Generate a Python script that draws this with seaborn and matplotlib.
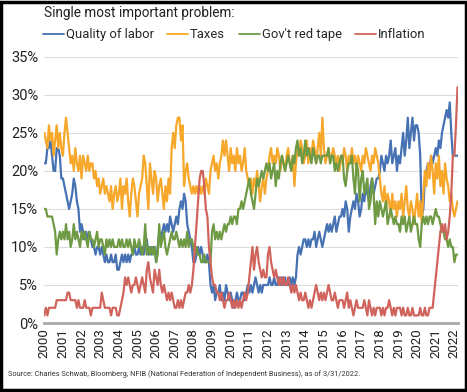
import matplotlib.pyplot as plt
import seaborn as sns
import numpy as np
import pandas as pd
from matplotlib.lines import Line2D

# 数据准备 (monthly, Jan 2000 - Mar 2022, %)
labor = [
    21, 21, 23, 23, 24, 22, 20, 20, 23, 23, 22, 19,  # 2000
    19, 18, 17, 16, 15, 16, 17, 19, 18, 16, 15, 12,  # 2001
    13, 12, 11, 12, 11, 12, 11, 10, 10, 9, 10, 10,   # 2002
    9, 10, 9, 8, 9, 8, 8, 9, 8, 8, 9, 7,             # 2003
    7, 8, 9, 8, 9, 8, 9, 8, 9, 9, 10, 9,             # 2004
    9, 10, 9, 10, 9, 10, 11, 9, 10, 9, 10, 10,       # 2005
    8, 10, 12, 11, 12, 13, 12, 13, 12, 14, 13, 12,   # 2006
    13, 14, 13, 15, 16, 15, 17, 16, 13, 12, 11, 10,  # 2007
    8, 8, 9, 10, 9, 10, 9, 8, 8, 9, 8, 5,            # 2008
    4, 5, 3, 4, 4, 5, 3, 4, 3, 5, 4, 3,              # 2009
    4, 3, 2, 3, 4, 3, 3, 4, 4, 3, 4, 5,              # 2010
    4, 5, 4, 5, 6, 5, 4, 5, 4, 5, 5, 5,              # 2011
    5, 6, 5, 5, 6, 5, 5, 6, 5, 6, 5, 6,              # 2012
    5, 5, 6, 5, 6, 5, 6, 9, 10, 9, 10, 11,           # 2013
    11, 10, 11, 10, 11, 11, 12, 10, 11, 12, 11, 10,  # 2014
    11, 12, 13, 12, 13, 12, 13, 14, 12, 13, 14, 14,  # 2015
    15, 14, 16, 15, 12, 14, 15, 16, 15, 17, 16, 14,  # 2016
    15, 17, 16, 18, 17, 16, 18, 19, 17, 18, 19, 19,  # 2017
    20, 22, 21, 20, 22, 21, 22, 24, 21, 22, 23, 20,  # 2018
    22, 21, 23, 25, 22, 24, 27, 23, 25, 27, 24, 26,  # 2019
    26, 25, 22, 14, 15, 19, 20, 21, 20, 22, 21, 22,  # 2020
    23, 22, 24, 23, 25, 26, 27, 28, 27, 29, 25, 22,  # 2021
    22, 22, 22,                                      # 2022
]
taxes = [
    25, 24, 23, 26, 24, 25, 22, 24, 26, 23, 25, 23,
    22, 25, 27, 25, 23, 21, 22, 20, 23, 21, 20, 22,
    19, 22, 21, 20, 22, 20, 21, 21, 19, 20, 18, 19,
    17, 18, 19, 17, 18, 17, 16, 18, 15, 17, 18, 16,
    17, 19, 15, 18, 17, 19, 16, 14, 17, 19, 18, 16,
    14, 17, 18, 19, 22, 21, 18, 15, 21, 19, 17, 20,
    19, 16, 18, 19, 17, 15, 18, 16, 19, 17, 23, 25,
    23, 26, 27, 27, 24, 26, 18, 20, 21, 19, 18, 17,
    18, 17, 18, 17, 18, 17, 18, 17, 19, 18, 17, 20,
    21, 22, 20, 21, 19, 21, 22, 24, 22, 24, 22, 20,
    23, 21, 22, 20, 23, 21, 22, 20, 21, 23, 20, 19,
    18, 19, 17, 19, 18, 20, 18, 16, 18, 19, 17, 19,
    20, 22, 23, 21, 22, 21, 23, 22, 20, 22, 21, 20,
    22, 23, 21, 20, 22, 18, 21, 23, 22, 24, 23, 21,
    22, 24, 21, 23, 22, 24, 23, 21, 23, 25, 22, 27,
    23, 21, 22, 23, 21, 22, 23, 22, 21, 22, 20, 22,
    21, 23, 22, 20, 22, 21, 23, 21, 22, 20, 22, 21,
    20, 22, 21, 23, 22, 21, 20, 22, 21, 23, 22, 21,
    19, 17, 16, 18, 15, 17, 16, 14, 17, 15, 16, 14,
    16, 15, 17, 14, 16, 18, 15, 14, 16, 15, 13, 15,
    17, 14, 16, 13, 17, 20, 18, 21, 19, 22, 20, 17,
    21, 19, 22, 18, 20, 17, 21, 19, 18, 16, 17, 15,
    14, 15, 16,
]
red_tape = [
    15, 15, 14, 14, 14, 14, 13, 12, 9, 11, 12, 11,
    12, 11, 13, 11, 12, 10, 11, 13, 11, 12, 11, 10,
    12, 11, 12, 11, 10, 12, 11, 11, 10, 11, 12, 10,
    11, 11, 10, 9, 11, 10, 11, 10, 11, 10, 10, 10,
    11, 10, 11, 10, 10, 11, 10, 11, 10, 9, 11, 10,
    10, 11, 10, 9, 10, 13, 9, 10, 9, 10, 9, 10,
    8, 9, 13, 10, 11, 12, 10, 9, 10, 11, 12, 11,
    11, 12, 11, 10, 11, 10, 11, 10, 12, 10, 11, 11,
    10, 9, 10, 9, 9, 8, 8, 9, 8, 8, 8, 8,
    12, 13, 11, 12, 11, 12, 11, 12, 13, 12, 13, 13,
    14, 13, 14, 14, 13, 15, 15, 16, 15, 16, 17, 18,
    19, 17, 16, 15, 17, 19, 18, 19, 20, 19, 20, 21,
    20, 21, 19, 20, 21, 18, 20, 19, 21, 22, 21, 20,
    21, 22, 21, 20, 22, 21, 23, 24, 22, 23, 21, 22,
    24, 22, 23, 22, 21, 23, 22, 21, 22, 22, 21, 22,
    22, 22, 22, 23, 21, 22, 22, 20, 21, 20, 21, 22,
    22, 19, 18, 20, 21, 21, 22, 19, 17, 21, 20, 16,
    19, 20, 17, 18, 19, 15, 16, 19, 17, 13, 16, 14,
    16, 15, 14, 15, 16, 13, 14, 15, 14, 13, 14, 13,
    13, 12, 14, 13, 14, 12, 13, 14, 12, 13, 14, 13,
    13, 11, 10, 13, 14, 13, 14, 13, 14, 14, 13, 14,
    15, 14, 14, 13, 12, 12, 11, 11, 10, 11, 10, 10,
    8, 9, 9,
]
inflation = [
    1, 2, 1, 2, 2, 2, 2, 2, 3, 3, 3, 3,
    3, 3, 3, 4, 4, 3, 3, 3, 3, 2, 3, 2,
    2, 2, 3, 2, 2, 2, 1, 2, 2, 2, 2, 2,
    2, 4, 3, 2, 2, 2, 2, 1, 2, 2, 2, 1,
    1, 2, 3, 4, 6, 5, 6, 5, 4, 5, 5, 6,
    5, 4, 5, 6, 5, 4, 7, 8, 6, 5, 4, 7,
    6, 5, 7, 5, 4, 5, 4, 3, 4, 3, 4, 3,
    2, 2, 3, 2, 3, 2, 3, 4, 4, 5, 4, 5,
    7, 10, 13, 16, 19, 20, 20, 18, 15, 14, 10, 8,
    6, 5, 5, 4, 4, 3, 4, 3, 2, 3, 3, 4,
    3, 2, 3, 2, 3, 2, 3, 2, 3, 4, 3, 4,
    6, 8, 10, 7, 9, 10, 8, 7, 6, 7, 6, 6,
    9, 10, 8, 7, 6, 7, 6, 5, 6, 5, 6, 5,
    5, 6, 5, 4, 5, 4, 5, 4, 3, 4, 3, 3,
    4, 3, 2, 3, 2, 3, 4, 5, 4, 3, 4, 3,
    4, 3, 4, 5, 4, 3, 3, 4, 3, 2, 3, 3,
    3, 2, 3, 4, 2, 3, 2, 1, 2, 3, 2, 2,
    2, 2, 3, 2, 1, 3, 2, 1, 2, 1, 2, 2,
    2, 1, 2, 1, 2, 2, 3, 2, 1, 2, 1, 2,
    2, 2, 1, 2, 1, 1, 2, 1, 1, 2, 1, 1,
    1, 1, 2, 1, 1, 2, 1, 1, 2, 2, 2, 4,
    6, 8, 10, 12, 13, 12, 13, 11, 12, 14, 17, 22,
    22, 26, 31,
]
series_names = ['Quality of labor', 'Taxes', "Gov't red tape", 'Inflation']
colors = ['#4672b4', '#f7a72a', '#6f9a44', '#d0645c']
year_labels = [str(y) for y in range(2000, 2023)]

n = len(labor)
t = 2000 + np.arange(n) / 12.0
df = pd.DataFrame({'t': t, 'Quality of labor': labor, 'Taxes': taxes,
                   "Gov't red tape": red_tape, 'Inflation': inflation})
long_df = df.melt(id_vars='t', var_name='series', value_name='pct')

sns.set_theme(style='white')
plt.rcParams['font.family'] = ['Roboto', 'DejaVu Sans']

fig = plt.figure(figsize=(4.67, 3.92), dpi=100)
ax = fig.add_axes([0.094, 0.176, 0.887, 0.679])

sns.lineplot(data=long_df, x='t', y='pct', hue='series', hue_order=series_names,
             palette=colors, linewidth=1.6, legend=False, ax=ax)

# 坐标轴
ax.set_xlim(1999.98, 2022.2)
ax.set_ylim(0, 35)
ax.set_yticks(range(0, 36, 5))
ax.set_yticklabels([f'{v}%' for v in range(0, 36, 5)], fontsize=10.5, color='#222222')
ax.set_xticks(range(2000, 2023))
ax.set_xticklabels(year_labels, rotation=90, fontsize=9.5, color='#222222')
ax.tick_params(axis='both', length=0, pad=4)
ax.set_xlabel('')
ax.set_ylabel('')
ax.grid(axis='y', color='#dddddd', linewidth=0.8)
ax.set_axisbelow(True)
for s in ['top', 'right', 'left']:
    ax.spines[s].set_visible(False)
ax.spines['bottom'].set_color('#a8a8a8')
ax.spines['bottom'].set_linewidth(2)

# 标题和图例
fig.text(0.094, 0.966, 'Single most important problem:', fontsize=9.8, color='#222222',
         va='center', ha='left')
handles = [Line2D([], [], color=c, linewidth=1.3) for c in colors]
fig.legend(handles, series_names, loc='center left', bbox_to_anchor=(0.086, 0.911),
           ncol=4, frameon=False, fontsize=9.4, handlelength=1.6, handletextpad=0.15,
           columnspacing=1.05, borderaxespad=0, borderpad=0.2)

fig.text(0.017, 0.045, 'Source: Charles Schwab, Bloomberg, NFIB (National Federation of '
         'Independent Business), as of 3/31/2022.', fontsize=5.3, color='#333333',
         ha='left', va='center')

# 外框
fig.patches.append(plt.Rectangle((0.002, 0.006), 0.996, 0.99, transform=fig.transFigure,
                                 fill=False, edgecolor='black', linewidth=2.5))

fig.savefig('out.png', dpi=100)
